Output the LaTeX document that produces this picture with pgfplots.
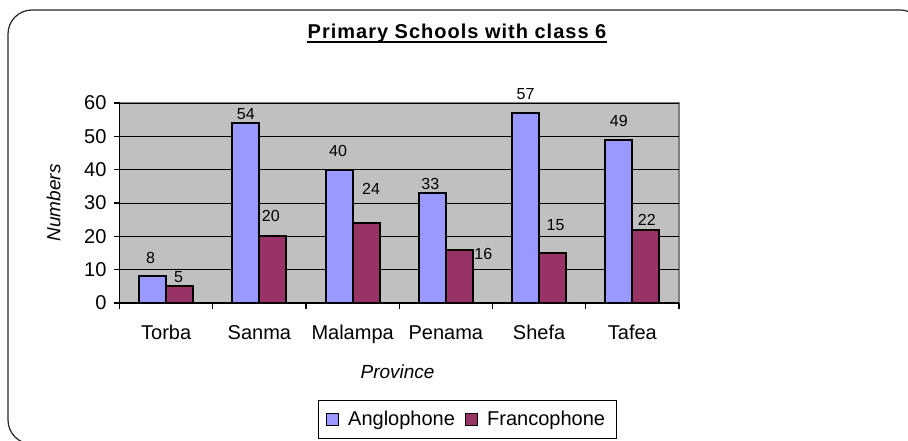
\documentclass[border=0pt]{standalone}
\usepackage{fontspec}
\setmainfont{Liberation Sans}
\usepackage{pgfplots}
\pgfplotsset{compat=1.18}
\usepackage{pgfplotstable}

\definecolor{anglo}{HTML}{9999FF}
\definecolor{franco}{HTML}{993366}
\definecolor{plotbg}{HTML}{C0C0C0}

% x = category index, y = value, dx/dy = label offset (pt)
\pgfplotstableread{
x y dx dy
0 8  -1   9
1 54  0   4.5
2 40 -0.5 9.5
3 33 -1   4.5
4 57  0   9.5
5 49  0   9.5
}\anglo

\pgfplotstableread{
x y dx dy
0 5  -0.5 4.5
1 20 -1   10
2 24  2.5 17
3 16  12  -2
4 15  1.5 14
5 22  0.5 5
}\franco

\begin{document}
\begin{tikzpicture}
\path[use as bounding box] (0,0) rectangle (454pt,220pt);
\begin{scope}
\clip (0,0) rectangle (454pt,220pt);
\draw[line width=0.6pt, draw=black!85, rounded corners=12pt] (4pt,-2pt) rectangle (462pt,215pt);
\end{scope}
\node[anchor=base, inner sep=0pt, font=\fontsize{10}{12}\selectfont\bfseries\addfontfeature{LetterSpace=5}] (T) at (228.5pt,200.85pt) {Primary Schools with class 6};
\draw[line width=0.9pt] ([yshift=-2pt]T.base west) -- ([yshift=-2pt]T.base east);

\begin{axis}[
  at={(59.75pt,68.5pt)}, anchor=south west,
  scale only axis, width=279.75pt, height=100pt,
  xmin=-0.5, xmax=5.5, ymin=0, ymax=60,
  ybar=0pt, bar width=13.5pt,
  axis x line*=bottom, axis y line*=left,
  axis line style={black, line width=0.6pt},
  axis background/.style={fill=plotbg, draw=black!50, line width=0.6pt},
  ytick={0,10,...,60},
  ymajorgrids, major grid style={black, line width=0.4pt},
  xtick={0,...,5},
  xticklabels={Torba,Sanma,Malampa,Penama,Shefa,Tafea},
  major x tick style={draw=none},
  minor xtick={-0.5,0.5,...,5.5},
  minor tick length=3pt,
  minor x tick style={black, line width=0.6pt},
  major tick length=3pt, tick align=outside,
  major y tick style={black, line width=0.6pt},
  /pgf/number format/assume math mode=true,
  yticklabel style={font=\fontsize{10}{12}\selectfont},
  xticklabel style={font=\fontsize{10}{12}\selectfont, anchor=base, yshift=-15pt},
  ylabel={Numbers},
  ylabel style={at={(axis description cs:-0.118,0.5)}, anchor=center, rotate=0, font=\fontsize{9.5}{11}\selectfont\itshape},
  xlabel={Province},
  xlabel style={at={(axis description cs:0.497,-0.3767)}, anchor=base, font=\fontsize{9.5}{11}\selectfont\itshape},
  legend columns=2,
  legend style={at={(axis description cs:0.622,-0.5825)}, anchor=center,
    draw=black, line width=0.5pt, font=\fontsize{10}{12}\selectfont,
    inner xsep=3.5pt, inner ysep=3pt,
    /tikz/every odd column/.append style={column sep=2.5pt},
    /tikz/every even column/.append style={column sep=3pt}},
  legend image code/.code={\draw[#1, draw=black, line width=0.6pt] (0pt,-3pt) rectangle (6pt,3pt);},
]
\addplot[fill=anglo, draw=black, line width=0.9pt,
  nodes near coords,
  visualization depends on={\thisrow{dx} \as \labdx},
  visualization depends on={\thisrow{dy} \as \labdy},
  every node near coord/.append style={font=\fontsize{8}{9}\selectfont, black, anchor=center, xshift=\labdx pt, yshift=\labdy pt}]
  table[x=x, y=y] {\anglo};
\addplot[fill=franco, draw=black, line width=0.9pt,
  nodes near coords,
  visualization depends on={\thisrow{dx} \as \labdx},
  visualization depends on={\thisrow{dy} \as \labdy},
  every node near coord/.append style={font=\fontsize{8}{9}\selectfont, black, anchor=center, xshift=\labdx pt, yshift=\labdy pt}]
  table[x=x, y=y] {\franco};
\legend{Anglophone, Francophone}
\end{axis}
\end{tikzpicture}
\end{document}
